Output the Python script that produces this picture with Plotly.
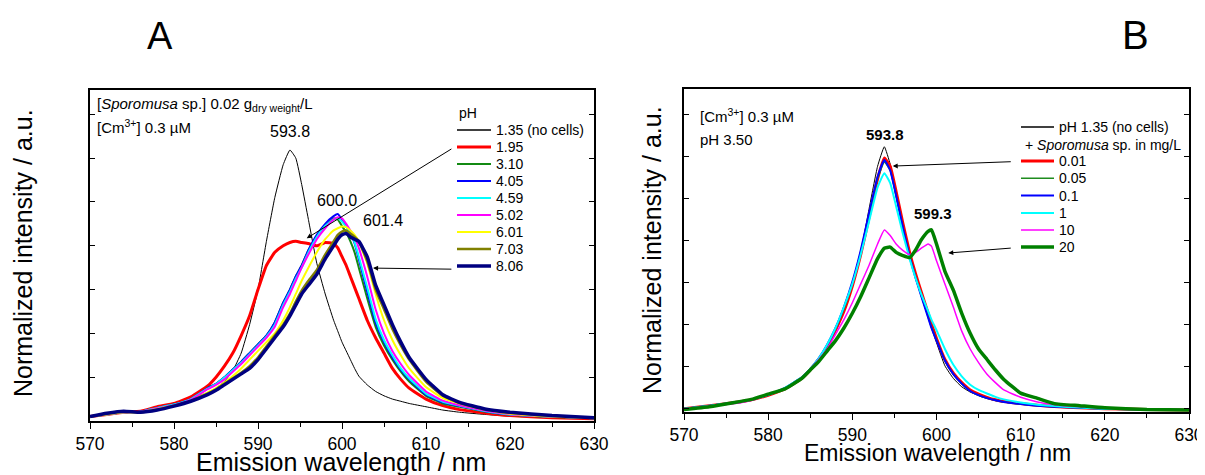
import plotly.graph_objects as go

OFF = 8  # page body offset of the plot div
W, H = 1205 - OFF, 475 - OFF
FONT = "Arial, Liberation Sans, sans-serif"

# ---------------- Panel A data (pH series) ----------------
wl_A = [570, 572, 574, 576, 578, 580, 582, 584, 585, 586, 587, 588, 589, 590, 591, 592, 593, 593.8,
        594.5, 595.2, 596, 597, 598, 599, 599.5, 600, 600.5, 601, 601.5, 602, 603, 604, 605, 606,
        607, 608, 610, 612, 614, 617, 620, 625, 630]
A_labels = ["1.35 (no cells)", "1.95", "3.10", "4.05", "4.59", "5.02", "6.01", "7.03", "8.06"]
A_colors = ["#000000", "#ff0000", "#138a13", "#0000ff", "#00ffff", "#ff00ff", "#ffff00", "#808000", "#000080"]
A_widths = [1, 3, 2, 2, 2, 2, 2, 2.5, 3.5]

A_ph135 = [.02, .03, .04, .045, .06, .075, .10, .13, .15, .18, .23, .31, .44, .60, .82, 1.02, 1.17, 1.237,
           1.20, 1.08, .92, .72, .58, .46, .41, .36, .32, .28, .24, .205, .165, .135, .115, .10,
           .09, .08, .065, .05, .04, .03, .022, .015, .012]
A_ph195 = [.02, .03, .04, .045, .065, .08, .11, .16, .20, .25, .31, .39, .48, .60, .71, .77, .80, .815,
           .82, .815, .81, .80, .815, .81, .79, .75, .71, .66, .61, .56, .46, .38, .31, .24,
           .19, .15, .10, .07, .052, .037, .025, .015, .01]
A_ph310 = [.02, .03, .04, .042, .06, .075, .10, .15, .17, .20, .235, .27, .31, .35, .39, .45, .54, .60,
           .66, .71, .78, .84, .89, .925, .92, .89, .86, .82, .77, .70, .56, .43, .345, .28,
           .225, .18, .115, .08, .065, .043, .028, .018, .012]
A_ph405 = [.02, .03, .04, .042, .06, .075, .10, .15, .17, .20, .235, .27, .31, .35, .39, .45, .54, .60,
           .66, .71, .78, .85, .90, .935, .945, .92, .89, .86, .81, .74, .59, .45, .36, .29,
           .235, .19, .12, .085, .068, .045, .03, .02, .012]
A_ph459 = [.02, .03, .04, .042, .06, .075, .10, .148, .168, .198, .232, .266, .305, .345, .385, .44, .53, .59,
           .65, .70, .77, .84, .89, .92, .925, .91, .885, .86, .815, .75, .61, .465, .37, .30,
           .24, .195, .125, .088, .07, .046, .03, .02, .012]
A_ph502 = [.02, .03, .04, .042, .058, .072, .097, .145, .165, .19, .225, .26, .30, .34, .38, .43, .52, .58,
           .64, .70, .76, .83, .88, .92, .93, .925, .90, .87, .84, .79, .66, .51, .40, .32,
           .26, .21, .135, .093, .072, .048, .031, .02, .012]
A_ph601 = [.02, .03, .04, .04, .055, .07, .09, .13, .15, .175, .205, .24, .28, .32, .36, .40, .46, .52,
           .58, .64, .70, .77, .83, .87, .88, .888, .885, .87, .85, .82, .72, .58, .46, .37,
           .30, .24, .155, .105, .08, .052, .033, .02, .012]
A_ph703 = [.02, .033, .043, .04, .052, .07, .092, .125, .145, .17, .195, .22, .25, .29, .34, .39, .44, .49,
           .545, .595, .64, .69, .76, .82, .85, .865, .87, .855, .84, .82, .73, .60, .51, .42,
           .345, .28, .18, .115, .082, .053, .038, .024, .014]
A_ph806 = [.02, .035, .045, .04, .05, .068, .09, .12, .14, .165, .19, .215, .24, .28, .33, .38, .43, .48,
           .53, .58, .62, .67, .74, .80, .83, .85, .856, .84, .83, .82, .75, .62, .53, .44,
           .36, .29, .19, .12, .085, .055, .04, .025, .015]
A_series = [A_ph135, A_ph195, A_ph310, A_ph405, A_ph459, A_ph502, A_ph601, A_ph703, A_ph806]

# ---------------- Panel B data (cell concentration series) ----------------
wl_B = [570, 573, 576, 578, 580, 582, 584, 585, 586, 587, 588, 589, 590, 591, 592, 593, 593.8, 594.5,
        595.2, 596, 596.8, 597.5, 598.2, 599, 599.4, 600, 601, 602, 603, 604, 605, 606, 607, 608,
        610, 612, 614, 617, 620, 625, 630]
B_labels = ["pH 1.35 (no cells)", "0.01", "0.05", "0.1", "1", "10", "20"]
B_colors = ["#000000", "#ff0000", "#1e8c1e", "#0000ff", "#00ffff", "#ff00ff", "#008000"]
B_widths = [1, 3, 1.5, 2, 2, 1.5, 3.5]

B_nocells = [.015, .03, .045, .058, .08, .11, .16, .20, .25, .31, .39, .48, .60, .76, .97, 1.17, 1.263, 1.18,
             1.04, .88, .74, .64, .55, .45, .40, .33, .22, .16, .12, .095, .078, .064, .054, .047,
             .037, .03, .025, .02, .015, .012, .01]
B_c001 = [.015, .03, .045, .058, .08, .11, .16, .20, .25, .31, .39, .48, .60, .75, .93, 1.11, 1.21, 1.17,
          1.05, .90, .76, .66, .57, .47, .42, .35, .25, .185, .14, .105, .085, .07, .058, .05,
          .04, .032, .026, .02, .016, .012, .01]
B_c005 = [.015, .03, .045, .059, .081, .112, .162, .202, .252, .315, .395, .49, .61, .76, .94, 1.11, 1.19, 1.15,
          1.03, .88, .745, .645, .555, .455, .405, .345, .245, .18, .135, .10, .08, .066, .056, .048,
          .038, .03, .025, .02, .015, .012, .01]
B_c01 = [.015, .03, .045, .06, .082, .115, .165, .205, .255, .32, .40, .50, .62, .77, .95, 1.12, 1.20, 1.15,
         1.03, .88, .74, .64, .55, .45, .40, .34, .245, .18, .135, .10, .08, .066, .056, .048,
         .038, .03, .025, .02, .015, .012, .01]
B_c1 = [.015, .03, .045, .06, .082, .115, .165, .205, .255, .32, .40, .50, .61, .75, .91, 1.07, 1.137, 1.09,
        .98, .85, .73, .64, .56, .48, .44, .39, .30, .225, .17, .13, .105, .088, .072, .06,
        .045, .035, .028, .021, .016, .012, .01]
B_c10 = [.015, .028, .04, .055, .082, .11, .165, .205, .25, .30, .37, .44, .52, .61, .70, .80, .867, .84,
         .80, .77, .75, .76, .78, .80, .79, .72, .61, .50, .385, .30, .235, .18, .14, .105,
         .07, .048, .035, .025, .018, .013, .01]
B_c20 = [.012, .025, .045, .06, .085, .11, .16, .20, .24, .29, .34, .40, .47, .55, .64, .73, .78, .785,
         .76, .745, .735, .77, .82, .86, .867, .80, .67, .58, .47, .375, .30, .25, .20, .155,
         .09, .065, .04, .03, .02, .012, .01]
B_series = [B_nocells, B_c001, B_c005, B_c01, B_c1, B_c10, B_c20]

xticks = [570, 580, 590, 600, 610, 620, 630]


def X(p):
    return (p - OFF) / W


def Y(p):
    return 1 - (p - OFF) / H


fig = go.Figure()
for lab, ys, c, w in zip(A_labels, A_series, A_colors, A_widths):
    fig.add_trace(go.Scatter(x=wl_A, y=ys, mode="lines", name=lab,
                             line=dict(color=c, width=w, shape="spline", smoothing=0.4),
                             xaxis="x", yaxis="y", showlegend=False))
for lab, ys, c, w in zip(B_labels, B_series, B_colors, B_widths):
    fig.add_trace(go.Scatter(x=wl_B, y=ys, mode="lines", name=lab,
                             line=dict(color=c, width=w, shape="spline", smoothing=0.4),
                             xaxis="x2", yaxis="y2", showlegend=False))

domA_x = [X(90), X(594)]
domA_y = [Y(421), Y(90)]
domB_x = [X(684), X(1189)]
domB_y = [Y(412), Y(89)]

xcommon = dict(range=[570, 630], tickvals=xticks, ticks="outside", ticklen=6, tickwidth=1.2, tickcolor="black",
               minor=dict(dtick=5, tick0=570, ticks="outside", ticklen=4, tickcolor="black", showgrid=False),
               showline=True, linecolor="black", linewidth=1.5, mirror=True, showgrid=False, zeroline=False,
               tickfont=dict(family=FONT, size=17.5, color="black"), fixedrange=True, automargin=False)
xtop = dict(range=[570, 630], tickmode="linear", tick0=570, dtick=5, ticks="inside", ticklen=5, tickcolor="black",
            showticklabels=False, showline=False, showgrid=False, zeroline=False, side="top", automargin=False)
ycommon = dict(ticks="inside", ticklen=5, tickcolor="black", mirror="ticks", showline=True, linecolor="black",
               linewidth=1.5, showticklabels=False, showgrid=False, zeroline=False, dtick=0.2, automargin=False)

fig.update_layout(
    width=W, height=H, margin=dict(l=0, r=0, t=0, b=0, pad=0, autoexpand=False),
    paper_bgcolor="white", plot_bgcolor="white",
    xaxis=dict(domain=domA_x, anchor="y", **xcommon),
    yaxis=dict(domain=domA_y, anchor="x", range=[0, 1.511], tick0=0, **ycommon),
    xaxis2=dict(domain=domB_x, anchor="y2", **xcommon),
    yaxis2=dict(domain=domB_y, anchor="x2", range=[0, 1.538], tick0=0.015, **ycommon),
    xaxis3=dict(overlaying="x", anchor="y", **xtop),
    xaxis4=dict(overlaying="x2", anchor="y2", **xtop),
    font=dict(family=FONT, color="black"),
)

ann = []
shapes = []


def text(x, y, s, size, xanchor="left", bold=False, angle=0):
    if bold:
        s = "<b>" + s + "</b>"
    ann.append(dict(x=X(x), y=Y(y), xref="paper", yref="paper", text=s, showarrow=False,
                    xanchor=xanchor, yanchor="middle", textangle=angle,
                    font=dict(family=FONT, size=size, color="black")))


# Panel letters
text(160, 36, "A", 38, "center")
text(1135, 35, "B", 40, "center")

# Axis titles
text(341, 462, "Emission wavelength / nm", 25, "center")
text(937, 453, "Emission wavelength / nm", 23, "center")
text(23, 253, "Normalized intensity / a.u.", 25, "center", angle=-90)
text(652, 250, "Normalized intensity / a.u.", 25, "center", angle=-90)

# Panel A inner texts
text(95, 104, "[<i>Sporomusa</i> sp.] 0.02 g<sub>dry weight</sub>/L", 15)
text(95, 127, "[Cm<sup>3+</sup>] 0.3 µM", 15)
text(290, 131, "593.8", 16, "center")
text(337, 200, "600.0", 16, "center")
text(383, 220, "601.4", 16, "center")

# Panel A legend
text(457, 113, "pH", 14)
for i, (lab, c, w) in enumerate(zip(A_labels, A_colors, A_widths)):
    yy = 130 + 17 * i
    shapes.append(dict(type="line", xref="paper", yref="paper", x0=X(457), x1=X(491), y0=Y(yy), y1=Y(yy),
                       line=dict(color=c, width=max(w, 1.5))))
    text(494, yy, lab, 14)

# Panel B inner texts
text(698, 116, "[Cm<sup>3+</sup>] 0.3 µM", 15)
text(698, 139, "pH 3.50", 15)
text(885, 134, "593.8", 15, "center", bold=True)
text(933, 213, "599.3", 15, "center", bold=True)

# Panel B legend
text(1023, 145, "+ <i>Sporomusa</i> sp. in mg/L", 14)
b_rows = [127, 161, 178.3, 195.6, 213, 230, 247]
for lab, c, w, yy in zip(B_labels, B_colors, B_widths, b_rows):
    shapes.append(dict(type="line", xref="paper", yref="paper", x0=X(1021), x1=X(1054), y0=Y(yy), y1=Y(yy),
                       line=dict(color=c, width=max(w, 1.5))))
    text(1057, yy, lab, 14)

# Arrows (legend -> curves)
arrow = dict(showarrow=True, arrowhead=2, arrowsize=1, arrowwidth=1, arrowcolor="black", text="", standoff=0)
ann.append(dict(x=595.8, y=0.834, xref="x", yref="y", ax=613.2, ay=1.246, axref="x", ayref="y", **arrow))
ann.append(dict(x=603.7, y=0.698, xref="x", yref="y", ax=613.2, ay=0.693, axref="x", ayref="y", **arrow))
ann.append(dict(x=594.8, y=1.171, xref="x2", yref="y2", ax=609.0, ay=1.192, axref="x2", ayref="y2", **arrow))
ann.append(dict(x=601.4, y=0.757, xref="x2", yref="y2", ax=609.0, ay=0.781, axref="x2", ayref="y2", **arrow))

fig.update_layout(annotations=ann, shapes=shapes)
fig.write_html("out.html")
